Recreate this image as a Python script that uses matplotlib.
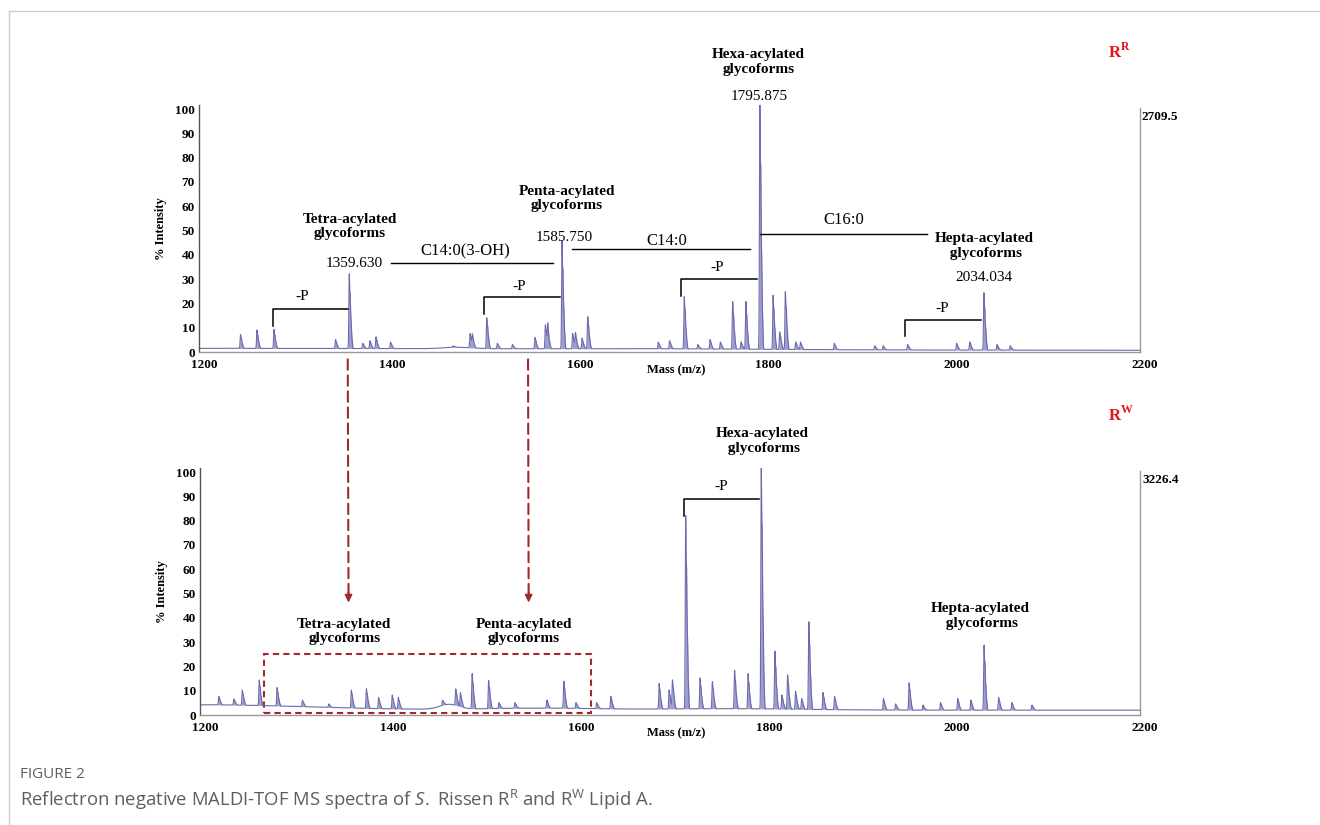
import numpy as np
import matplotlib
matplotlib.use("Agg")
import matplotlib.pyplot as plt
from matplotlib.lines import Line2D
from matplotlib.patches import ConnectionPatch, Rectangle
from matplotlib.transforms import ScaledTranslation

plt.rcParams['font.family'] = ['Liberation Serif', 'DejaVu Serif']
plt.rcParams['mathtext.fontset'] = 'custom'
plt.rcParams['mathtext.rm'] = 'Open Sans'
plt.rcParams['mathtext.it'] = 'Open Sans:italic'

# ---- peak lists (m/z, % intensity) ----
# R^R spectrum
top_mz = [1244, 1261.5, 1279.6, 1345, 1359.6, 1374, 1381.5, 1388, 1403.5, 1470,
          1488, 1490.5, 1505.7, 1517, 1533, 1557, 1568, 1570.5, 1585.7, 1597,
          1600, 1607, 1613, 1688, 1700, 1715.6, 1730, 1743, 1754, 1767, 1776,
          1781, 1795.9, 1810, 1817, 1823, 1834, 1839, 1875, 1918, 1927, 1953,
          2005, 2019, 2034, 2048, 2062]
top_int = [7, 8.8, 9, 5, 31, 3.5, 4.5, 6, 4, 2.5,
           7.4, 6, 13.6, 3.5, 3, 5.8, 10.8, 9.5, 44, 7.4,
           7, 5.5, 14, 4, 4.5, 22, 3, 5, 4, 20, 4,
           20, 100, 22.5, 8, 24, 4, 4, 3.5, 2.5, 2.5, 3,
           3.5, 4, 23.5, 3, 2.5]
# broad baseline components: centre, level, width
top_base_mz = [1200, 1475, 1700, 2100]
top_base_lv = [0.9, 0.6, 0.3, 0.1]
top_base_w = [400, 15, 120, 150]

# R^W spectrum
bot_mz = [1220, 1236, 1245, 1263, 1282, 1309, 1337, 1361, 1377, 1390, 1404.5,
          1411, 1458, 1472, 1477, 1489.5, 1507, 1518, 1535, 1569, 1587, 1600,
          1622, 1637, 1688.4, 1699, 1702.6, 1716.6, 1731.9, 1745, 1768.6, 1783,
          1797, 1811.5, 1819, 1825, 1833.5, 1840, 1847.6, 1862.7, 1875, 1927,
          1940, 1954.3, 1969, 1987.7, 2006, 2020, 2034, 2049.5, 2063.6, 2085]
bot_int = [7.5, 6.5, 10, 14, 11, 6, 4.5, 10, 10.5, 7, 8,
           7, 6, 10.5, 9, 16.5, 13.7, 5, 5, 6, 13.5, 5,
           5, 7.5, 12.6, 10, 13.7, 79, 14.7, 13.3, 17.8, 16.5,
           100, 25.4, 8, 16, 9.5, 6.6, 37, 9, 7.4, 6.6,
           4.5, 12.8, 4, 5, 6.6, 6, 27.7, 7, 5, 4]
bot_base_mz = [1200, 1465, 1560, 1760, 2100]
bot_base_lv = [2.2, 2.0, 0.8, 0.6, 0.0]
bot_base_w = [120, 10, 60, 80, 100]

iso_ratio = [1.0, 0.68, 0.35, 0.12]

mz = np.arange(1200, 2200.05, 0.1)


def spectrum(pk_mz, pk_int, b_mz, b_lv, b_w, floor):
    base = np.full_like(mz, floor)
    for c, lv, w in zip(b_mz, b_lv, b_w):
        base += lv * np.exp(-0.5 * ((mz - c) / w) ** 2)
    sig = np.zeros_like(mz)
    for m, h in zip(pk_mz, pk_int):
        amp = max(h - np.interp(m, mz, base), 0.3)
        for k, r in enumerate(iso_ratio):
            sig += amp * r * np.exp(-0.5 * ((mz - m - k) / 0.42) ** 2)
    return base, base + sig


fig = plt.figure(figsize=(13.2, 8.25), dpi=100)

# thin page frame
fig.add_artist(Line2D([9 / 1320, 1], [1 - 11 / 825] * 2, color='#cccccc', lw=1))
fig.add_artist(Line2D([9 / 1320] * 2, [0, 1 - 11 / 825], color='#cccccc', lw=1))

ax1 = fig.add_axes([0.1508, 0.5733, 0.7129, 0.2989])
ax2 = fig.add_axes([0.1515, 0.1333, 0.7122, 0.2989])

line_c = '#6a6aac'
fill_c = '#9d9dd0'
red = '#a3282d'
shift = ScaledTranslation(5 / 100, 0, fig.dpi_scale_trans)

panels = [
    (ax1, top_mz, top_int, top_base_mz, top_base_lv, top_base_w, 0.6, '2709.5', 'R'),
    (ax2, bot_mz, bot_int, bot_base_mz, bot_base_lv, bot_base_w, 2.0, '3226.4', 'W'),
]
for ax, pm, pi, bm, bl, bw, fl, maxv, sup in panels:
    base, y = spectrum(pm, pi, bm, bl, bw, fl)
    ax.fill_between(mz, base, y, color=fill_c, lw=0)
    ax.plot(mz, y, color=line_c, lw=0.8)
    ax.set_xlim(1200, 2200)
    ax.set_ylim(0, 101.5)
    ax.spines['top'].set_visible(False)
    ax.spines['left'].set_color('#555555')
    ax.spines['right'].set_color('#999999')
    ax.spines['bottom'].set_color('#999999')
    ax.spines['right'].set_bounds(0, 100.5)
    for s in ax.spines.values():
        s.set_linewidth(1)
    ax.set_xticks(range(1200, 2201, 200))
    ax.set_yticks(range(0, 101, 10))
    ax.tick_params(length=0, labelsize=9.5)
    ax.tick_params(axis='x', pad=5)
    ax.tick_params(axis='y', pad=3)
    for t in ax.get_xticklabels() + ax.get_yticklabels():
        t.set_fontweight('bold')
    for t in ax.get_xticklabels():
        t.set_transform(t.get_transform() + shift)
    ax.set_ylabel('% Intensity', fontsize=9, fontweight='bold', labelpad=6)
    ax.text(0.507, -0.075, 'Mass (m/z)', transform=ax.transAxes, ha='center',
            va='center', fontsize=9, fontweight='bold')
    ax.text(2202, 96.7, maxv, ha='left', va='center', fontsize=9.5, fontweight='bold')
    ax.text(2173, 123, 'R', color='#e3141b', fontsize=12, fontweight='bold',
            ha='center', va='center', clip_on=False)
    ax.text(2179.5, 125.5, sup, color='#e3141b', fontsize=8.5, fontweight='bold',
            ha='left', va='center', clip_on=False)

bold = dict(fontsize=11, fontweight='bold', ha='center', va='center',
            linespacing=1.15, clip_on=False)
reg = dict(fontsize=11, ha='center', va='center', clip_on=False)

# ---- top panel annotations ----
ax1.text(1794.5, 119.3, 'Hexa-acylated\nglycoforms', **bold)
ax1.text(1795, 105.3, '1795.875', **reg)
ax1.text(1360.3, 51.6, 'Tetra-acylated\nglycoforms', **bold)
ax1.text(1364.5, 36.6, '1359.630', **reg)
ax1.text(1590.7, 63.2, 'Penta-acylated\nglycoforms', **bold)
ax1.text(1588.5, 47.3, '1585.750', **reg)
ax1.text(2034, 43.6, 'Hepta-acylated\n glycoforms', **bold)
ax1.text(2034.4, 30.5, '2034.034', **reg)

# acyl-chain difference lines: x0, x1, y, label x, label y, label
acyl = [(1403.8, 1575.8, 36.6, 1483.4, 41.4, 'C14:0(3-OH)'),
        (1596, 1786, 42.6, 1696.8, 45.9, 'C14:0'),
        (1796.6, 1973.4, 48.6, 1884.7, 54.5, 'C16:0')]
for x0, x1, yy, lx, ly, lab in acyl:
    ax1.plot([x0, x1], [yy, yy], color='black', lw=1)
    ax1.text(lx, ly, lab, fontsize=12, ha='center', va='center')

# -P brackets: left x, right x, top y, bottom y, label x, label y
brk_top = [(1278.2, 1357.9, 17.7, 10.8, 1309.3, 22.8),
           (1503.3, 1583.2, 22.6, 15.6, 1539.7, 26.9),
           (1712.5, 1792.4, 30.0, 23.0, 1751, 34.9),
           (1950.6, 2031.2, 13.2, 6.6, 1989.8, 18.0)]
brk_bot = [(1715.2, 1795, 88.9, 82.0, 1754.7, 94.0)]
for ax, brks in ((ax1, brk_top), (ax2, brk_bot)):
    for x0, x1, yt, yb, lx, ly in brks:
        ax.plot([x0, x0, x1], [yb, yt, yt], color='black', lw=1.1)
        ax.text(lx, ly, '-P', **reg)

# ---- bottom panel annotations ----
ax2.text(1797.7, 112.8, 'Hexa-acylated\n glycoforms', **bold)
ax2.text(2030, 40.7, 'Hepta-acylated\n glycoforms', **bold)
ax2.text(1353.6, 34.3, 'Tetra-acylated\nglycoforms', **bold)
ax2.text(1544.3, 34.3, 'Penta-acylated\nglycoforms', **bold)
ax2.add_patch(Rectangle((1268.3, 0.7), 1615.8 - 1268.3, 25.1 - 0.7, fill=False,
                        ec=red, lw=1.5, ls=(0, (3, 2)), clip_on=False))

# dashed arrows linking the panels
for xa in (1358, 1549.6):
    con = ConnectionPatch(xyA=(xa, -3), coordsA=ax1.transData,
                          xyB=(xa, 49.5), coordsB=ax2.transData,
                          color=red, lw=1.5, ls=(0, (5, 2.7)))
    fig.add_artist(con)
    ax2.annotate('', xy=(xa, 46.3), xytext=(xa, 50.5),
                 arrowprops=dict(arrowstyle='-|>', color=red, lw=1.2,
                                 mutation_scale=11, shrinkA=0, shrinkB=0),
                 annotation_clip=False)

# ---- caption ----
fig.text(20 / 1320, 1 - 774 / 825, 'FIGURE 2', family='Open Sans', fontsize=11,
         color='#5e5e5e', va='center', ha='left')
fig.text(20 / 1320, 1 - 800 / 825,
         r'Reflectron negative MALDI-TOF MS spectra of $\mathit{S.}$ Rissen '
         r'R$^{\mathrm{R}}$ and R$^{\mathrm{W}}$ Lipid A.',
         family='Open Sans', fontsize=13.3, color='#5e5e5e', va='center', ha='left')

fig.savefig('out.png', dpi=100)
